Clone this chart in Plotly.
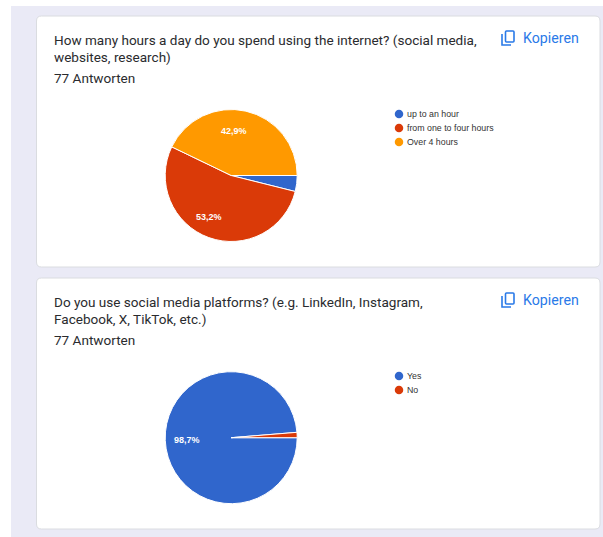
import plotly.graph_objects as go

# Survey responses (counts out of 77)
hours_labels = ["up to an hour", "from one to four hours", "Over 4 hours"]
hours_counts = [3, 41, 33]
hours_colors = ["#3066cc", "#da3a08", "#ff9900"]

social_labels = ["Yes", "No"]
social_counts = [76, 1]
social_colors = ["#3066cc", "#da3a08"]

questions = [
    ["How many hours a day do you spend using the internet? (social media,", "websites, research)"],
    ["Do you use social media platforms? (e.g. LinkedIn, Instagram,", "Facebook, X, TikTok, etc.)"],
]
answers_caption = "77 Antworten"
copy_caption = "Kopieren"

W, H = 603, 537
PAGE_BG = "#eaeaf6"
CARD_EDGE = "#dadce0"
TEXT = "#2a2b2e"
LINK = "#2a7ae8"


def rounded(x0, y0, x1, y1, r):
    return (
        f"M{x0+r},{y0} L{x1-r},{y0} Q{x1},{y0} {x1},{y0+r} L{x1},{y1-r} Q{x1},{y1} {x1-r},{y1} "
        f"L{x0+r},{y1} Q{x0},{y1} {x0},{y1-r} L{x0},{y0+r} Q{x0},{y0} {x0+r},{y0} Z"
    )


def pct(counts, i):
    return f"{counts[i] / sum(counts) * 100:.1f}%".replace(".", ",")


fig = go.Figure()
shapes, notes = [], []

shapes.append(dict(type="rect", x0=11, y0=6, x1=W, y1=H, fillcolor=PAGE_BG, line_width=0, layer="below"))

cards = [
    dict(top=16, bottom=267, cy=175.5, labels=hours_labels, counts=hours_counts, colors=hours_colors, legend_y=114),
    dict(top=278, bottom=529, cy=437.7, labels=social_labels, counts=social_counts, colors=social_colors, legend_y=376),
]

PIE_CX, PIE_R = 231.2, 66

for q, card in zip(questions, cards):
    top = card["top"]
    shapes.append(dict(type="path", path=rounded(36.5, top, 600, card["bottom"], 5),
                       fillcolor="white", line=dict(color=CARD_EDGE, width=1), layer="below"))

    # Question heading and response count
    for line, dy in zip(q + [answers_caption], [23.8, 41.4, 61.8]):
        notes.append(dict(x=52, y=top + dy, text=line, xanchor="left", yanchor="middle", showarrow=False,
                          font=dict(family="Roboto", size=13.55, color=TEXT)))

    # "Kopieren" link with its copy icon
    notes.append(dict(x=521, y=top + 22, text=copy_caption, xanchor="left", yanchor="middle", showarrow=False,
                      font=dict(family="Roboto", size=14.2, color=LINK, weight=400)))
    shapes.append(dict(type="path", path=rounded(505.5, top + 15, 514, top + 26, 1),
                       line=dict(color=LINK, width=1.6), layer="above"))
    shapes.append(dict(type="path",
                       path=f"M502,{top+18} L502,{top+29} L511,{top+29}",
                       line=dict(color=LINK, width=1.6), layer="above"))

    # Pie
    fig.add_trace(go.Pie(
        labels=card["labels"], values=card["counts"], sort=False, direction="clockwise", rotation=90,
        marker=dict(colors=card["colors"], line=dict(color="white", width=1)),
        textinfo="none", hoverinfo="label+percent", showlegend=False,
        domain=dict(x=[(PIE_CX - PIE_R) / W, (PIE_CX + PIE_R) / W],
                    y=[1 - (card["cy"] + PIE_R) / H, 1 - (card["cy"] - PIE_R) / H]),
    ))

    # Legend
    ys = [card["legend_y"] + 14 * i for i in range(len(card["labels"]))]
    fig.add_trace(go.Scatter(
        x=[399] * len(ys), y=ys, mode="markers", hoverinfo="skip", showlegend=False,
        marker=dict(size=8.5, color=card["colors"]),
    ))
    for name, y in zip(card["labels"], ys):
        notes.append(dict(x=405, y=y, text=name, xanchor="left", yanchor="middle", showarrow=False,
                          font=dict(family="Liberation Sans", size=8.8, color="#333333")))

# Percentage labels inside the slices
for x, y, counts, i in [(234, 131, hours_counts, 2), (209, 217, hours_counts, 1), (186.5, 440, social_counts, 0)]:
    notes.append(dict(x=x, y=y, text=pct(counts, i), xanchor="center", yanchor="middle", showarrow=False,
                      font=dict(family="Liberation Sans", size=9, color="white", weight=700)))

fig.update_layout(
    width=W, height=H, margin=dict(l=0, r=0, t=0, b=0), paper_bgcolor="white", plot_bgcolor="rgba(0,0,0,0)",
    xaxis=dict(range=[0, W], visible=False, fixedrange=True),
    yaxis=dict(range=[H, 0], visible=False, fixedrange=True),
    shapes=shapes, annotations=notes,
)
fig.write_html("out.html")
